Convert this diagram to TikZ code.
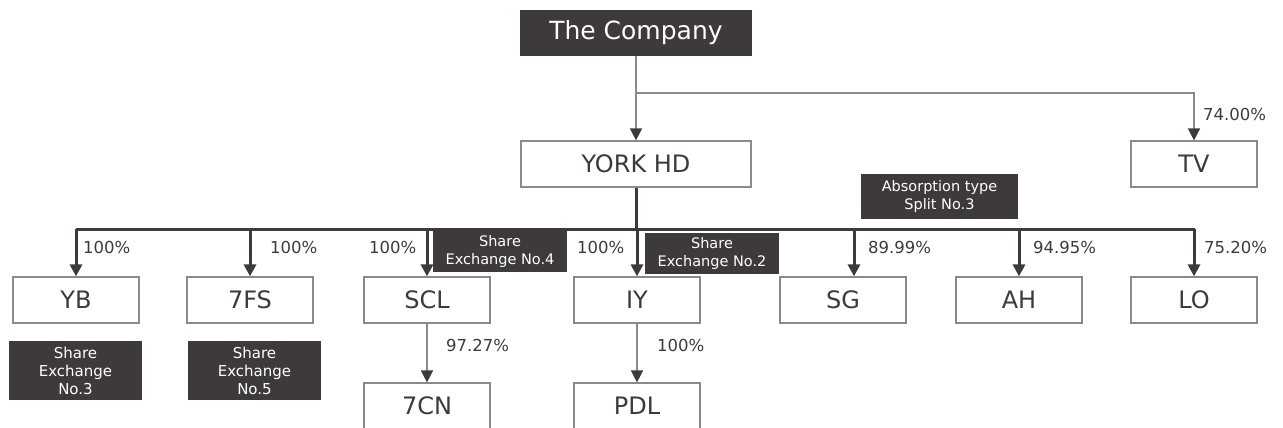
\documentclass[tikz,border=0pt]{standalone}
\usepackage{fontspec}
\setmainfont{DejaVu Sans}
\usetikzlibrary{arrows.meta}
\definecolor{darkbox}{HTML}{3E3A39}
\definecolor{lineg}{HTML}{8A8A8A}
\begin{document}
\begin{tikzpicture}[x=1pt,y=-1pt,
    company/.style={fill=darkbox, text=white, minimum width=232pt, minimum height=46pt, inner sep=0pt, font=\fontsize{25}{29}\selectfont},
    entity/.style={draw=lineg, line width=1.2pt, fill=white, text=darkbox, minimum width=126pt, minimum height=46pt, inner sep=0pt, font=\fontsize{24}{28}\selectfont},
    note/.style={fill=darkbox, text=white, align=center, inner sep=0pt, font=\fontsize{14.5}{18}\selectfont},
    pct/.style={text=darkbox, anchor=west, inner sep=0pt, font=\fontsize{16.5}{19}\selectfont},
    thinline/.style={draw=lineg, line width=1.5pt},
    thinarrow/.style={thinline, -{Triangle[width=12pt,length=12pt,color=darkbox]}},
    thickline/.style={draw=darkbox, line width=3pt},
    thickarrow/.style={thickline, -{Triangle[width=12pt,length=12pt]}}]
    \clip (0,0) rectangle (1283,428);

    % top level
    \node[company] (co) at (636,33) {The Company};
    \node[entity, minimum width=230pt] (york) at (636,164) {YORK HD};
    \node[entity] (tv) at (1194,164) {TV};

    % subsidiaries
    \node[entity] (yb) at (76,300) {YB};
    \node[entity] (fs) at (250,300) {7FS};
    \node[entity] (scl) at (427,300) {SCL};
    \node[entity] (iy) at (637,300) {IY};
    \node[entity] (sg) at (843,300) {SG};
    \node[entity] (ah) at (1019,300) {AH};
    \node[entity] (lo) at (1194,300) {LO};
    \node[entity] (cn) at (427,406) {7CN};
    \node[entity] (pdl) at (637,406) {PDL};

    % notes
    \node[note, minimum width=157pt, minimum height=45pt] (split3) at (939.5,196.5) {Absorption type\\Split No.3};
    \node[note, minimum width=134pt, minimum height=41pt] (ex4) at (500,251.5) {Share\\Exchange No.4};
    \node[note, minimum width=134pt, minimum height=41pt] (ex2) at (712,253.5) {Share\\Exchange No.2};
    \node[note, minimum width=133pt, minimum height=59pt, font=\fontsize{15}{18}\selectfont] (ex3) at (75.5,370.5) {Share\\Exchange\\No.3};
    \node[note, minimum width=133pt, minimum height=59pt, font=\fontsize{15}{18}\selectfont] (ex5) at (254.5,370.5) {Share\\Exchange\\No.5};

    % The Company -> YORK HD, TV
    \coordinate (fork) at (636,93);
    \draw[thinarrow] (co.south) -- (york.north);
    \draw[thinarrow] (fork) -| (tv.north);

    % YORK HD -> subsidiaries
    \coordinate (busl) at (76,229);
    \coordinate (busr) at (1195,229);
    \draw[thickline] (york.south) -- (york.south |- busl);
    \draw[thickline] (busl) -- (busr);
    \foreach \n in {yb,fs,scl,iy,ah,lo} {
        \draw[thickarrow] (\n.north |- busl) -- (\n.north);
    }
    \draw[thickarrow] ([xshift=11pt]sg.north |- busl) -- ([xshift=11pt]sg.north);

    \draw[thinarrow] (scl.south) -- (cn.north);
    \draw[thinarrow] (iy.south) -- (pdl.north);

    % holding ratios
    \node[pct] at (1203,114) {74.00\%};
    \node[pct] at (83,247) {100\%};
    \node[pct] at (270,247) {100\%};
    \node[pct] at (369,247) {100\%};
    \node[pct] at (577,247) {100\%};
    \node[pct] at (868,247) {89.99\%};
    \node[pct] at (1033,247) {94.95\%};
    \node[pct] at (1204,247) {75.20\%};
    \node[pct] at (446,345) {97.27\%};
    \node[pct] at (657,345) {100\%};
\end{tikzpicture}
\end{document}
